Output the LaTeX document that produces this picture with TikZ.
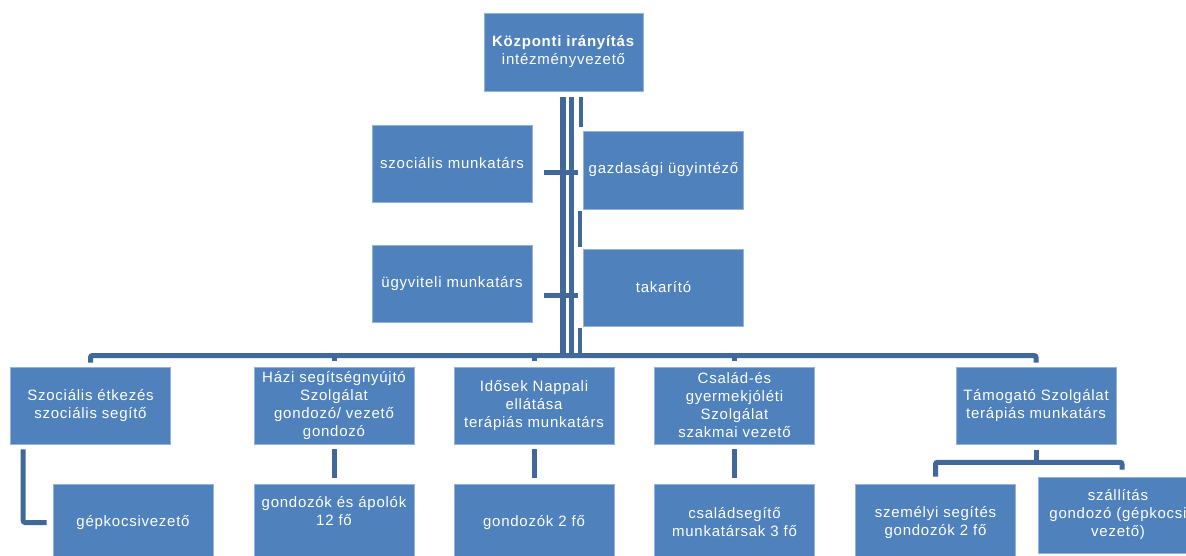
\documentclass[tikz,border=0pt]{standalone}
\usepackage{fontspec}
\setmainfont{Liberation Sans}[LetterSpace=5]
\definecolor{boxblue}{HTML}{4F81BD}
\definecolor{linkblue}{HTML}{41689A}
\begin{document}
\begin{tikzpicture}[x=1pt,y=-1pt,
  box/.style={rectangle,fill=boxblue,draw=boxblue!60!white,line width=0.6pt,text=white,
    align=center,inner sep=2pt,font=\fontsize{15}{18}\selectfont,
    minimum width=160pt,minimum height=77pt},
  conn/.style={draw=linkblue,line width=5pt,rounded corners=2pt}]
\useasboundingbox (0,0) rectangle (1186,556);
\fill[white] (0,0) rectangle (1186,556);
% boxes
\node[box,minimum width=159pt,minimum height=78pt] (top) at (563.5,52) {\textbf{Központi irányítás}\\intézményvezető};
\node[box] (szm) at (452,163.5) {szociális munkatárs};
\node[box] (ugy) at (452,283.5) {ügyviteli munkatárs};
\node[box,minimum height=78pt] (gaz) at (663.5,170) {gazdasági ügyintéző};
\node[box] (tak) at (663.5,287.5) {takarító};
\node[box] (etk) at (90.5,405.5) {Szociális étkezés\\szociális segítő};
\node[box] (hazi) at (334,405.5) {Házi segítségnyújtó\\Szolgálat\\gondozó/ vezető\\gondozó};
\node[box] (ido) at (534,405.5) {Idősek Nappali\\ellátása\\terápiás munkatárs};
\node[box] (csa) at (734.5,405.5) {Család-és\\gyermekjóléti\\Szolgálat\\szakmai vezető};
\node[box] (tam) at (1036,405.5) {Támogató Szolgálat\\terápiás munkatárs};
\node[box] (gep) at (133,522.5) {gépkocsivezető};
\node[box] (gon) at (334,522.5) {gondozók és ápolók\\12 fő\\\strut};
\node[box] (go2) at (534,522.5) {gondozók 2 fő};
\node[box] (csm) at (734.5,522.5) {családsegítő\\munkatársak 3 fő};
\node[box] (szem) at (935.5,522.5) {személyi segítés\\gondozók 2 fő};
\node[box,minimum height=76pt] (sza) at (1118,515) {szállítás\\gondozó (gépkocsi\\vezető)};
% trunk and bus
\coordinate (bus) at (563,355.5);
\draw[conn,line width=6pt] ([xshift=-0.5pt,yshift=-6pt]top.south) -- (bus);
\draw[conn] ([xshift=8pt,yshift=-6pt]top.south) -- ++(0,259);
\draw[conn,line width=4pt] ([xshift=17pt,yshift=-6pt]top.south) -- ++(0,30);
\draw[conn,line width=4pt] ([xshift=-3pt]gaz.south west) ++(0,2) -- ++(0,36);
\draw[conn,line width=4pt] ([xshift=-3pt]tak.south west) ++(0,2) -- ++(0,25);
\draw[conn] ([yshift=4pt]etk.north) |- (bus) -| ([yshift=4pt]tam.north);
\draw[conn] ([yshift=6pt]hazi.north) -- (hazi.north |- bus);
\draw[conn] ([yshift=6pt]ido.north) -- (ido.north |- bus);
\draw[conn] ([yshift=6pt]csa.north) -- (csa.north |- bus);
% stubs to left boxes
\draw[conn,rounded corners=0pt] ([xshift=12pt,yshift=-9.5pt]szm.east) -- ++(34,0);
\draw[conn,rounded corners=0pt] ([xshift=12pt,yshift=-11.5pt]ugy.east) -- ++(34,0);
% lower connectors
\draw[conn] ([xshift=13pt,yshift=-5pt]etk.south west) |- ([xshift=-6pt]gep.west);
\draw[conn] ([yshift=-5pt]hazi.south) -- ([yshift=6pt]gon.north);
\draw[conn] ([yshift=-5pt]ido.south) -- ([yshift=6pt]go2.north);
\draw[conn] ([yshift=-5pt]csa.south) -- ([yshift=6pt]csm.north);
\draw[conn] ([yshift=-6pt]tam.south) -- ([yshift=-18pt]tam.south);
\draw[conn] ([yshift=7pt]szem.north) |- ([yshift=-18pt]tam.south) -| ([xshift=4pt,yshift=7pt]sza.north);
\end{tikzpicture}
\end{document}
